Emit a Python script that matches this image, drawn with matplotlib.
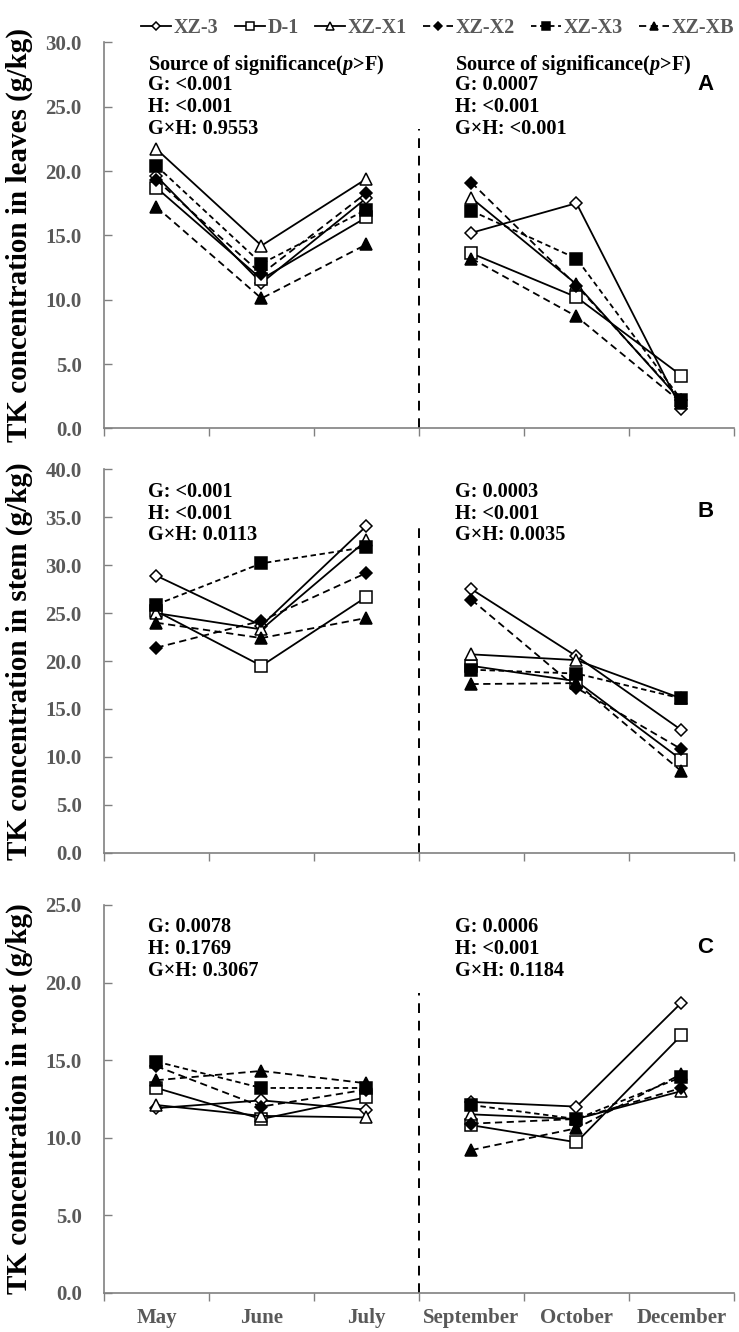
import matplotlib.pyplot as plt

plt.rcParams['font.family'] = ['Liberation Serif', 'DejaVu Serif']
plt.rcParams['font.weight'] = 'bold'
plt.rcParams['mathtext.fontset'] = 'custom'
plt.rcParams['mathtext.it'] = 'Liberation Serif:italic:bold'
plt.rcParams['mathtext.rm'] = 'Liberation Serif:bold'

months = ['May', 'June', 'July', 'September', 'October', 'December']
names = ['XZ-3', 'D-1', 'XZ-X1', 'XZ-X2', 'XZ-X3', 'XZ-XB']

# TK concentration (g/kg), one list per genotype, six months
leaves = {
    'XZ-3':  [19.6, 11.3, 17.9, 15.2, 17.5, 1.5],
    'D-1':   [18.7, 11.6, 16.4, 13.6, 10.2, 4.1],
    'XZ-X1': [21.7, 14.2, 19.4, 17.9, 11.2, 2.1],
    'XZ-X2': [19.3, 12.0, 18.3, 19.1, 11.1, 2.2],
    'XZ-X3': [20.4, 12.8, 17.0, 16.9, 13.2, 2.2],
    'XZ-XB': [17.2, 10.1, 14.3, 13.2, 8.7, 2.0],
}
stem = {
    'XZ-3':  [28.9, 23.7, 34.1, 27.5, 20.5, 12.8],
    'D-1':   [25.2, 19.5, 26.7, 19.5, 17.9, 9.7],
    'XZ-X1': [25.0, 23.3, 32.6, 20.7, 20.1, 16.1],
    'XZ-X2': [21.4, 24.2, 29.2, 26.4, 17.2, 10.8],
    'XZ-X3': [25.9, 30.2, 31.9, 19.1, 18.7, 16.1],
    'XZ-XB': [24.0, 22.4, 24.5, 17.6, 17.7, 8.5],
}
root = {
    'XZ-3':  [11.9, 12.4, 11.8, 12.3, 12.0, 18.7],
    'D-1':   [13.2, 11.2, 12.6, 10.8, 9.7, 16.6],
    'XZ-X1': [12.1, 11.4, 11.3, 11.5, 11.2, 13.0],
    'XZ-X2': [14.6, 12.0, 13.1, 10.9, 11.2, 13.2],
    'XZ-X3': [14.9, 13.2, 13.2, 12.1, 11.2, 13.9],
    'XZ-XB': [13.7, 14.3, 13.5, 9.2, 10.6, 14.1],
}

styles = {
    'XZ-3':  dict(ls='-', marker='D', mfc='white', ms=6),
    'D-1':   dict(ls='-', marker='s', mfc='white', ms=8),
    'XZ-X1': dict(ls='-', marker='^', mfc='white', ms=8),
    'XZ-X2': dict(ls=(0, (4, 2.5)), marker='D', mfc='black', ms=6),
    'XZ-X3': dict(ls=(0, (3, 2)), marker='s', mfc='black', ms=8),
    'XZ-XB': dict(ls=(0, (4, 2.5)), marker='^', mfc='black', ms=8),
}

src = 'Source of significance($\\mathit{p}$>F)'
panels = [
    (leaves, 'TK concentration in leaves (g/kg)', 30, 'A',
     [src, 'G: <0.001', 'H: <0.001', 'G×H: 0.9553'],
     [src, 'G: 0.0007', 'H: <0.001', 'G×H: <0.001'], 23.3),
    (stem, 'TK concentration in stem (g/kg)', 40, 'B',
     ['G: <0.001', 'H: <0.001', 'G×H: 0.0113'],
     ['G: 0.0003', 'H: <0.001', 'G×H: 0.0035'], 34.2),
    (root, 'TK concentration in root (g/kg)', 25, 'C',
     ['G: 0.0078', 'H: 0.1769', 'G×H: 0.3067'],
     ['G: 0.0006', 'H: <0.001', 'G×H: 0.1184'], 19.3),
]
rects = [[0.1407, 0.6784, 0.8525, 0.2898],
         [0.1407, 0.3598, 0.8525, 0.2878],
         [0.1407, 0.0295, 0.8525, 0.2911]]

fig = plt.figure(figsize=(7.39, 13.32), dpi=100)
gray = '#808080'
tcol = '#595959'
x = list(range(len(months)))

for i, (data, ylab, ymax, letter, left_txt, right_txt, vtop) in enumerate(panels):
    ax = fig.add_axes(rects[i])
    for n in names:
        st = styles[n]
        kw = dict(color='black', lw=1.3, ls=st['ls'], marker=st['marker'],
                  mfc=st['mfc'], mec='black', ms=st['ms'], mew=1.1)
        # first season (May-July) and second season (Sept-Dec) drawn apart
        ax.plot(x[:3], data[n][:3], label=n, **kw)
        ax.plot(x[3:], data[n][3:], **kw)
    ax.axvline(2.5, ymin=0, ymax=vtop / ymax, color='black', lw=1.4, ls=(0, (5, 4)))
    ax.set_xlim(-0.5, 5.5)
    ax.set_ylim(0, ymax)
    ax.set_yticks([v * 5.0 for v in range(int(ymax / 5) + 1)])
    ax.set_yticklabels(['%.1f' % (v * 5.0) for v in range(int(ymax / 5) + 1)],
                       fontsize=15, color=tcol, fontweight='bold')
    ax.set_xticks([v - 0.5 for v in range(7)])
    ax.set_xticklabels([])
    ax.set_xticks(x, minor=True)
    if i == 2:
        ax.set_xticklabels(months, minor=True, fontsize=15, color=tcol, fontweight='bold')
    else:
        ax.set_xticklabels([], minor=True)
    ax.tick_params(axis='x', which='major', direction='out', length=6, color=gray, width=1)
    ax.tick_params(axis='x', which='minor', length=0, pad=11)
    ax.tick_params(axis='y', direction='in', length=6, color=gray, width=1, pad=16)
    for s in ['top', 'right']:
        ax.spines[s].set_visible(False)
    for s in ['left', 'bottom']:
        ax.spines[s].set_color(gray)
        ax.spines[s].set_linewidth(1.2)
    ax.set_ylabel(ylab, fontsize=21, fontweight='bold')
    ax.yaxis.set_label_coords(-0.112, 0.5)

    y0 = 0.973 if i == 0 else (0.968 if i == 1 else 0.97)
    for k, t in enumerate(left_txt):
        ax.text(0.07, y0 - k * 0.057, t, transform=ax.transAxes, fontsize=14.6,
                fontweight='bold', va='top', ha='left')
    for k, t in enumerate(right_txt):
        ax.text(0.557, y0 - k * 0.057, t, transform=ax.transAxes, fontsize=14.6,
                fontweight='bold', va='top', ha='left')
    ax.text(0.955, 0.89, letter, transform=ax.transAxes, fontsize=16, fontweight='bold',
            family=['Liberation Sans', 'DejaVu Sans'], ha='center', va='center')

    if i == 0:
        h, l = ax.get_legend_handles_labels()

leg = fig.legend(h, l, loc='center', bbox_to_anchor=(0.592, 0.979), ncol=6, frameon=False,
                 fontsize=14.5, handlelength=1.5, handletextpad=0.12, columnspacing=0.8,
                 markerscale=0.75, borderpad=0.1)
for t in leg.get_texts():
    t.set_color(tcol)
    t.set_fontweight('bold')

fig.savefig('out.png', dpi=100)
